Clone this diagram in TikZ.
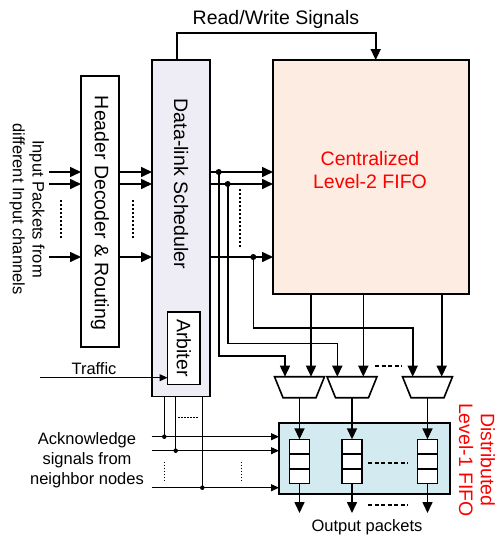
\documentclass[tikz,border=0pt]{standalone}
\usepackage{fontspec}
\setmainfont{Liberation Sans}
\usetikzlibrary{arrows.meta}
\definecolor{schedfill}{HTML}{EEEDF5}
\definecolor{fifofill}{HTML}{FCECE2}
\definecolor{distfill}{HTML}{D3EAF0}
\definecolor{redtxt}{HTML}{FF0000}
\begin{document}
\begin{tikzpicture}[x=1pt,y=-1pt,
  box/.style={draw, line width=1.6pt, inner sep=0pt, outer sep=0pt},
  bigtxt/.style={font=\fontsize{19.5}{23.5}\selectfont, inner sep=0pt, align=center},
  smalltxt/.style={font=\fontsize{16.5}{19.8}\selectfont, inner sep=0pt, align=center},
  sig/.style={line width=1.6pt, -{Triangle[length=11pt,width=10pt]}},
  thinsig/.style={line width=1pt, -{Triangle[length=8pt,width=7pt]}},
  wire/.style={line width=1.6pt},
  thinwire/.style={line width=1pt},
  dotline/.style={line width=1.6pt, dash pattern=on 2pt off 2pt},
  thindot/.style={line width=1pt, dash pattern=on 1.5pt off 1.5pt},
  dashline/.style={line width=1.6pt, dash pattern=on 4pt off 2.5pt},
  junc/.style={circle, fill, inner sep=0pt, minimum size=6pt},
  sjunc/.style={circle, fill, inner sep=0pt, minimum size=4.5pt}
]
\useasboundingbox (0,0) rectangle (499,541);

% main boxes
\node[box, fill=schedfill, minimum width=58pt, minimum height=336.5pt] (sched) at (181,228.25) {};
\node[box, fill=white, minimum width=38pt, minimum height=271pt] (hdr) at (100,211.5) {};
\node[box, fill=white, minimum width=32.5pt, minimum height=72.6pt] (arb) at (183.75,348) {};
\node[box, fill=fifofill, minimum width=196pt, minimum height=234pt] (fifo) at (371,177) {};
\node[box, fill=distfill, minimum width=171pt, minimum height=71.3pt] (dist) at (364.5,458.35) {};

% texts
\node[bigtxt] (rwlbl) at (276,19) {Read/Write Signals};
\node[bigtxt, rotate=-90] (hdrlbl) at (100,213) {Header Decoder \& Routing};
\node[bigtxt, rotate=-90] (schedlbl) at (181,184) {Data-link Scheduler};
\node[bigtxt, rotate=-90] (arblbl) at (arb.center) {Arbiter};
\node[bigtxt, text=redtxt] (fifolbl) at (370,170) {Centralized\\Level-2 FIFO};
\node[smalltxt, rotate=-90] (inlbl) at (27,209) {Input Packets from\\different Input channels};
\node[smalltxt] (trlbl) at (94,369) {Traffic};
\node[smalltxt] (acklbl) at (87,460.5) {Acknowledge\\signals from\\neighbor nodes};
\node[smalltxt] (outlbl) at (367,527) {Output packets};
\node[font=\fontsize{19.5}{21.7}\selectfont, inner sep=0pt, align=center, text=redtxt, rotate=-90] (distlbl) at (477,460) {Distributed\\Level-1 FIFO};

% read/write
\coordinate (rw1) at (177,33);
\coordinate (rw2) at (375.7,33);
\draw[sig] (rw1 |- sched.north) -- (rw1) -- (rw2) -- (rw2 |- fifo.north);

% inputs
\coordinate (in1) at (49,172);
\coordinate (in2) at (49,184);
\coordinate (in3) at (49,257);
\foreach \c in {in1,in2,in3}{
  \draw[sig] (\c) -- (\c -| hdr.west);
  \draw[sig] (\c -| hdr.east) -- (\c -| sched.west);
  \draw[sig] (\c -| sched.east) -- (\c -| fifo.west);
}
\draw[dotline] (61,200) -- (61,238);
\draw[dotline] (133,200) -- (133,238);
\draw[dotline] (240,189) -- (240,247);

% junctions
\node[junc] (j1) at (218.7,172) {};
\node[junc] (j2) at (227.7,184) {};
\node[junc] (j3) at (253.3,257) {};

% muxes and level-1 fifos
\foreach \i/\cx in {1/299.5, 2/352, 3/427.5}{
  \draw[box, fill=white] (\cx-25,376.7) -- (\cx+25,376.7) -- (\cx+16.5,397.7) -- (\cx-16.5,397.7) -- cycle;
  \coordinate (mo\i) at (\cx,397.7);
  \node[box, fill=white, minimum width=20pt, minimum height=44pt] (sf\i) at (\cx,461.3) {};
  \draw[wire] (\cx-10,454) -- (\cx+10,454);
  \draw[wire] (\cx-10,468.7) -- (\cx+10,468.7);
  \coordinate (op\i) at (\cx,513);
}
\coordinate (mi1) at (285,376.7);
\coordinate (mi2) at (337.3,376.7);
\coordinate (mi3) at (412.7,376.7);
\coordinate (mf1) at (311,376.7);
\coordinate (mf2) at (363.3,376.7);
\coordinate (mf3) at (441.7,376.7);
\coordinate (h1) at (285,356);
\coordinate (h2) at (337.3,343.3);
\coordinate (h3) at (412.7,327.7);

\draw[sig] (j1.center) |- (h1) -- (mi1);
\draw[sig] (j2.center) |- (h2) -- (mi2);
\draw[sig] (j3.center) |- (h3) -- (mi3);
\foreach \i in {1,2,3}{
  \draw[sig] (mf\i |- fifo.south) -- (mf\i);
  \draw[sig] (mo\i) -- (sf\i.north);
  \draw[sig] (sf\i.south) -- (op\i);
}
\draw[dashline] (375,366) -- (401.7,366);
\draw[dashline] (368,463) -- (408,463);
\draw[dashline] (368,505) -- (408,505);

% traffic
\coordinate (tr) at (40,377.7);
\draw[thinsig] (tr) -- (tr -| arb.west);

% acknowledge
\coordinate (a1) at (151.7,436.7);
\coordinate (a2) at (151.7,450.7);
\coordinate (a3) at (151.7,487.7);
\foreach \c in {a1,a2,a3}{
  \draw[thinsig] (\c) -- (\c -| dist.west);
}
\node[sjunc] (k1) at (164.3,436.7) {};
\node[sjunc] (k2) at (175.7,450.7) {};
\node[sjunc] (k3) at (202.3,487.7) {};
\foreach \k in {k1,k2,k3}{
  \draw[thinwire] (\k |- sched.south) -- (\k.center);
}
\draw[thindot] (178,417.3) -- (199,417.3);
\draw[thindot] (164,461.7) -- (164,481.7);
\draw[thindot] (241.7,461.7) -- (241.7,481.7);
\end{tikzpicture}
\end{document}
